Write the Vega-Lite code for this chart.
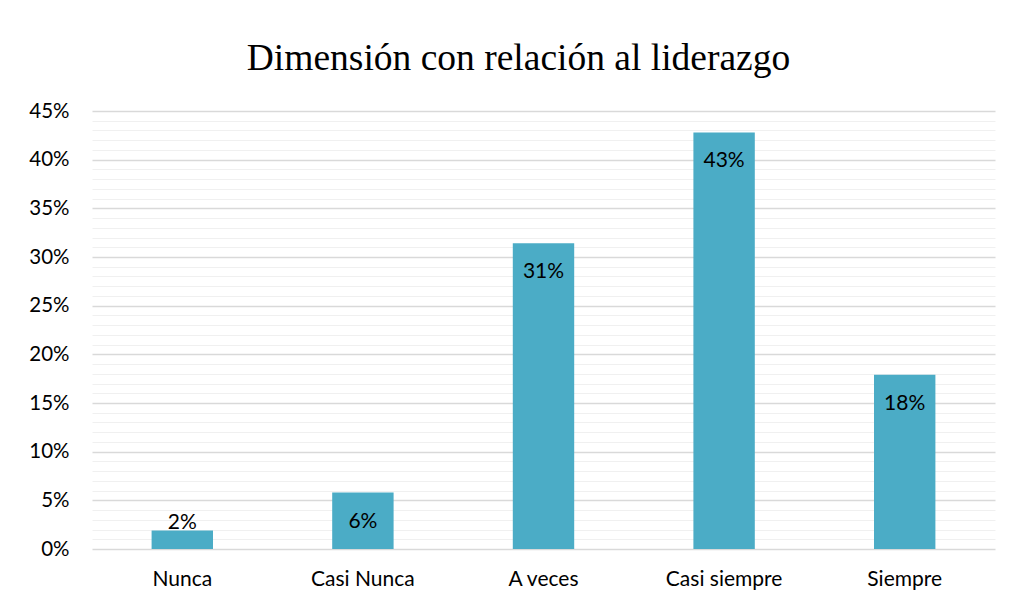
{
  "$schema": "https://vega.github.io/schema/vega-lite/v6.json",
  "width": 903,
  "height": 438,
  "autosize": {"type": "none"},
  "padding": {"left": 92, "top": 111, "right": 17, "bottom": 56},
  "background": "white",
  "title": {
    "text": "Dimensión con relación al liderazgo",
    "font": "Liberation Serif",
    "fontSize": 37.5,
    "fontWeight": "normal",
    "color": "#000000",
    "anchor": "middle",
    "frame": "group",
    "dx": -25,
    "offset": 24
  },
  "data": {
    "values": [
      {"categoria": "Nunca", "porcentaje": 1.9, "etiqueta": "2%"},
      {"categoria": "Casi Nunca", "porcentaje": 5.8, "etiqueta": "6%"},
      {"categoria": "A veces", "porcentaje": 31.4, "etiqueta": "31%"},
      {"categoria": "Casi siempre", "porcentaje": 42.8, "etiqueta": "43%"},
      {"categoria": "Siempre", "porcentaje": 17.9, "etiqueta": "18%"}
    ]
  },
  "encoding": {
    "x": {
      "field": "categoria",
      "type": "nominal",
      "sort": null,
      "scale": {"paddingInner": 0.66, "paddingOuter": 0.33},
      "axis": {
        "title": null,
        "labelAngle": 0,
        "labelFont": "Lato",
        "labelFontSize": 21,
        "labelColor": "#000000",
        "labelPadding": 19,
        "ticks": false,
        "domain": false
      }
    },
    "y": {
      "field": "porcentaje",
      "type": "quantitative",
      "scale": {"domain": [0, 45], "nice": false},
      "axis": {
        "title": null,
        "values": [0,1,2,3,4,5,6,7,8,9,10,11,12,13,14,15,16,17,18,19,20,21,22,23,24,25,26,27,28,29,30,31,32,33,34,35,36,37,38,39,40,41,42,43,44,45],
        "labelExpr": "datum.value % 5 === 0 ? datum.value + '%' : ''",
        "labelOverlap": false,
        "labelFont": "Lato",
        "labelFontSize": 20.5,
        "labelColor": "#000000",
        "labelPadding": 23,
        "ticks": false,
        "domain": false,
        "gridColor": {"condition": {"test": "datum.value % 5 === 0", "value": "#D9D9D9"}, "value": "#F0F0F0"},
        "gridWidth": {"condition": {"test": "datum.value % 5 === 0", "value": 1.3}, "value": 1}
      }
    }
  },
  "layer": [
    {"mark": {"type": "bar", "color": "#4BACC6"}},
    {
      "transform": [{"filter": "datum.porcentaje >= 5"}],
      "mark": {"type": "text", "font": "Lato", "fontSize": 21, "color": "#000000", "baseline": "middle", "dy": 29},
      "encoding": {"text": {"field": "etiqueta"}}
    },
    {
      "transform": [{"filter": "datum.porcentaje < 5"}],
      "mark": {"type": "text", "font": "Lato", "fontSize": 21, "color": "#000000", "baseline": "middle", "dy": -8},
      "encoding": {"text": {"field": "etiqueta"}}
    }
  ],
  "config": {"view": {"stroke": null}}
}
